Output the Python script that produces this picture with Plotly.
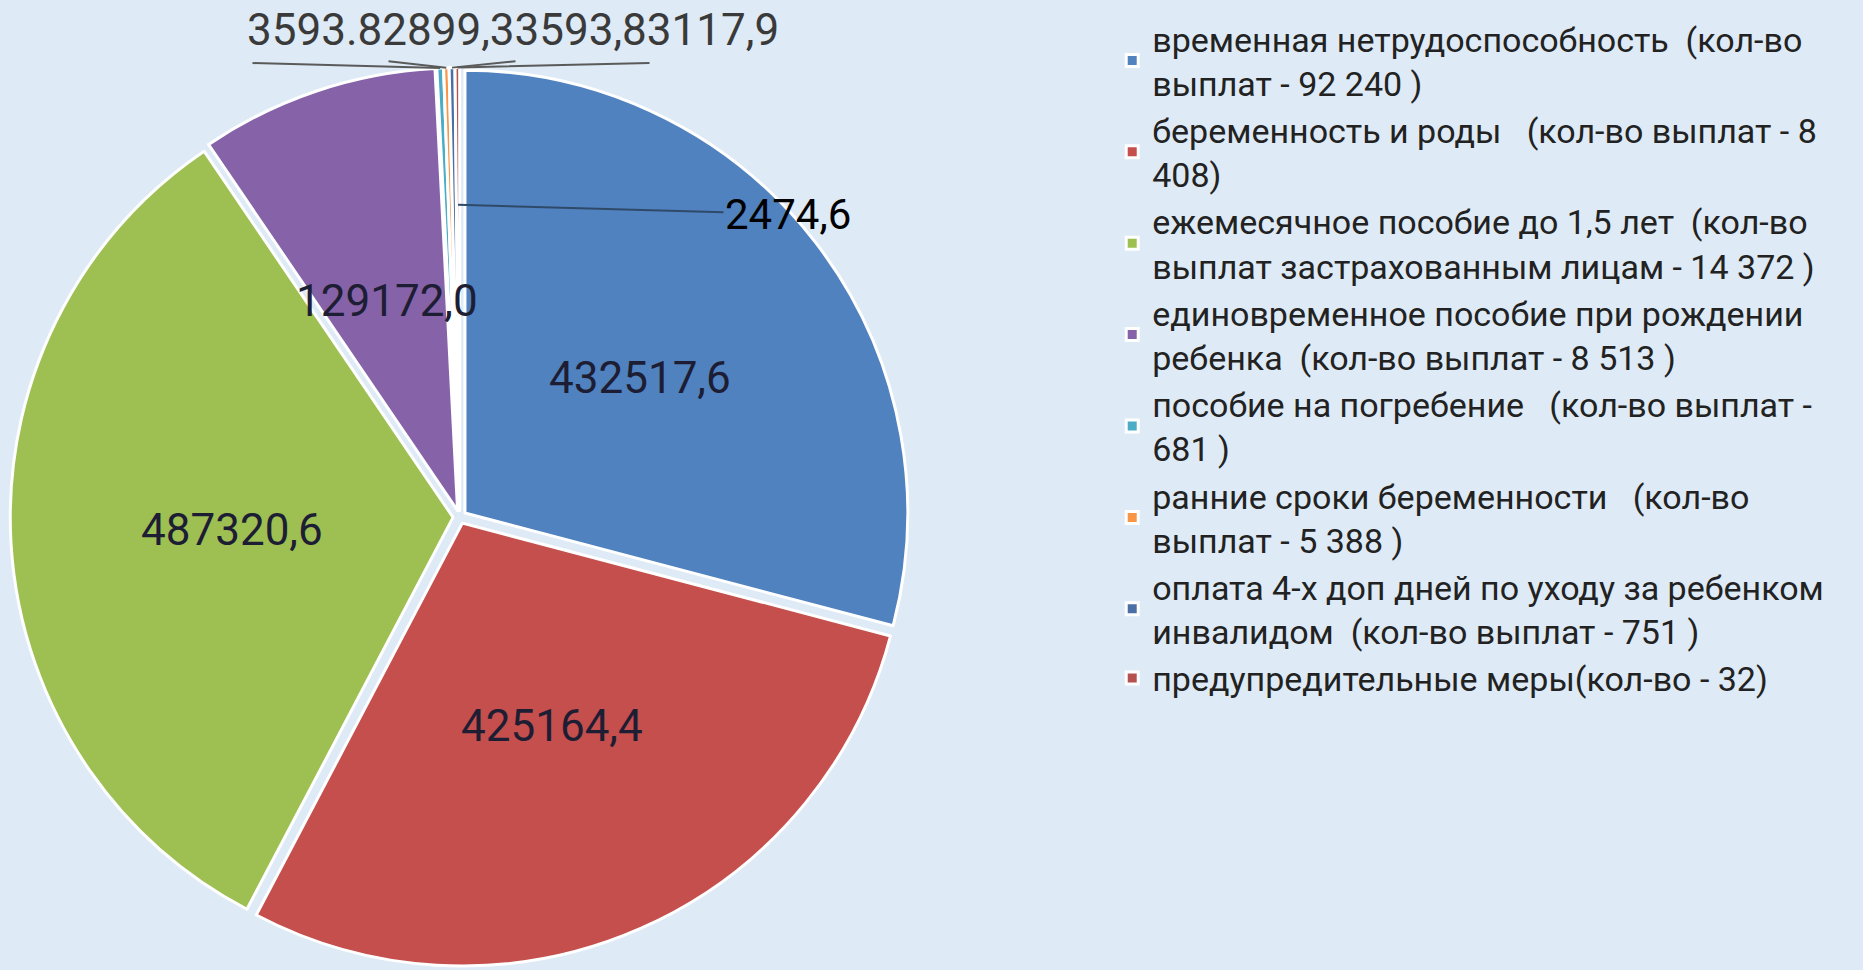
#%%
import math
import plotly.graph_objects as go

#%% Data
labels = [
    "временная нетрудоспособность\u00a0\u00a0(кол-во<br>выплат - 92 240 )",
    "беременность и роды\u00a0\u00a0\u00a0(кол-во выплат - 8<br>408)",
    "ежемесячное пособие до 1,5 лет\u00a0\u00a0(кол-во<br>выплат застрахованным лицам - 14 372 )",
    "единовременное пособие при рождении<br>ребенка\u00a0\u00a0(кол-во выплат - 8 513 )",
    "пособие на погребение\u00a0\u00a0\u00a0(кол-во выплат -<br>681 )",
    "ранние сроки беременности\u00a0\u00a0\u00a0(кол-во<br>выплат - 5 388 )",
    "оплата 4-х доп дней по уходу за ребенком<br>инвалидом\u00a0\u00a0(кол-во выплат - 751 )",
    "предупредительные меры(кол-во - 32)",
]
values = [432517.6, 425164.4, 487320.6, 129172.0, 3593.8, 2899.3, 3117.9, 2474.6]
colors = ['#5082C0', '#C54F4D', '#9EC053', '#8663A8', '#4BACC6', '#F79646', '#4A6FA5', '#B5524F']
top_label = "3593.82899,33593,83117,9"

#%% Layout numbers
W, H = 1863, 970
pull = 0.015
dom_x = [0.0055, 0.4880]
dom_y = [0.0030, 0.9310]

text = [f"{v:.1f}".replace('.', ',') for v in values]

#%% Pie geometry (label placement follows the slices)
cx = (dom_x[0] + dom_x[1]) / 2 * W
cy = H - (dom_y[0] + dom_y[1]) / 2 * H
R = min((dom_x[1] - dom_x[0]) * W, (dom_y[1] - dom_y[0]) * H) / 2 / (1 + pull)
total = sum(values)
mid_ang = []
cum = 0
for v in values:
    mid_ang.append((cum + v / 2) / total * 2 * math.pi)
    cum += v

def slice_point(i, frac):
    a = mid_ang[i]
    r = R * frac + R * pull
    return cx + r * math.sin(a), cy - r * math.cos(a)

#%% Figure
fig = go.Figure(go.Pie(
    labels=labels, values=values, textinfo='none',
    marker=dict(colors=colors, line=dict(color='white', width=3)),
    pull=[pull] * len(values), sort=False, direction='clockwise', rotation=0,
    domain=dict(x=dom_x, y=dom_y), hoverinfo='label+value',
))

# data labels of the big slices, at the middle of the radius
for i, v in enumerate(values):
    if v > 50000:
        px, py = slice_point(i, 0.5)
        fig.add_annotation(x=px / W, y=1 - py / H, xref='paper', yref='paper', text=text[i],
                           showarrow=False, xanchor='center', yanchor='middle',
                           font=dict(family='Roboto', size=44, color='#1d1d33'))

# leader lines for the overlapping labels at the top
ends = [(251, 63), (387, 61), (517, 61), (651, 63)]
for i, (ex, ey) in zip([4, 5, 6, 7], ends):
    px, py = slice_point(i, 1.0)
    fig.add_annotation(x=px / W, y=1 - py / H, xref='paper', yref='paper', text='',
                       showarrow=True, arrowhead=0, arrowwidth=2, arrowcolor='#5a5a5a',
                       ax=ex - px, ay=ey - py)
fig.add_annotation(x=513 / W, y=1 - 30 / H, xref='paper', yref='paper', text=top_label,
                   showarrow=False, xanchor='center', yanchor='middle',
                   font=dict(family='Roboto', size=44, color='#3a3a3a'))

px, py = slice_point(7, 0.69)
fig.add_annotation(x=px / W, y=1 - py / H, xref='paper', yref='paper', text=text[7],
                   showarrow=True, arrowhead=0, arrowwidth=2, arrowcolor='#2f4a68',
                   ax=788 - px, ay=214 - py,
                   font=dict(family='Roboto', size=42, color='black'))

fig.update_layout(
    width=W, height=H,
    margin=dict(l=0, r=0, t=0, b=0),
    paper_bgcolor='#DEEAF5', plot_bgcolor='#DEEAF5',
    legend=dict(x=0.597, y=0.99, xanchor='left', yanchor='top',
                font=dict(family='Roboto', size=34, color='#222222'),
                bgcolor='rgba(0,0,0,0)'),
)

fig.write_html("out.html", config={'displayModeBar': False},
               post_script="document.body.style.margin='0';")
